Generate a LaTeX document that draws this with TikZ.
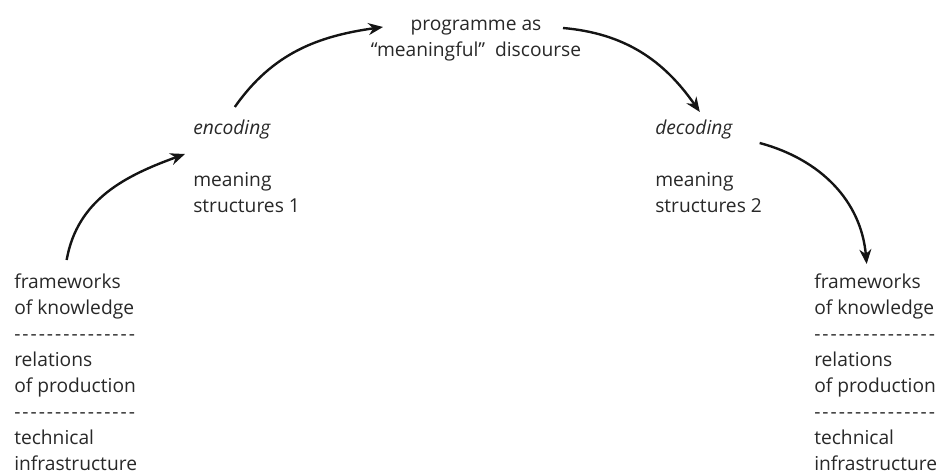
\documentclass[tikz,border=0pt]{standalone}
\usepackage{fontspec}
\setmainfont{Open Sans}
\usetikzlibrary{arrows.meta, positioning, calc}
\definecolor{inkgray}{RGB}{40, 40, 40}
\definecolor{arrowblack}{RGB}{20, 20, 20}
\newcommand{\dashrow}{\foreach \i in {1,...,15}{-\kern1.5pt}}
\tikzset{
    basictext/.style={
        inner sep=0pt,
        align=left,
        text=inkgray,
        font=\fontsize{14.4}{19.5}\selectfont
    },
    arrow/.style={
        -{Stealth[length=11pt, width=9pt]},
        line width=1.8pt,
        color=arrowblack
    },
}

\begin{document}
\begin{tikzpicture}[x=0.75pt, y=0.75pt]
    \useasboundingbox (0,0) rectangle (942,475);
    % the two stacks
    \node[basictext, anchor=north west] (lstack) at (14,201) {frameworks\\of knowledge\\\dashrow\\relations\\of production\\\dashrow\\technical\\infrastructure};
    \node[basictext, anchor=north west] (rstack) at (814,201) {frameworks\\of knowledge\\\dashrow\\relations\\of production\\\dashrow\\technical\\infrastructure};
    % encoding side
    \node[basictext, anchor=base west, font=\fontsize{14.4}{19.5}\selectfont\itshape] (enc) at (193,340) {encoding};
    \node[basictext, anchor=north west] (mean1) at (193,303) {meaning\\structures 1};
    % decoding side
    \node[basictext, anchor=base west, font=\fontsize{14.4}{19.5}\selectfont\itshape] (dec) at (655,340) {decoding};
    \node[basictext, anchor=north west] (mean2) at (655,303) {meaning\\structures 2};
    % programme
    \node[basictext, align=center, anchor=north] (prog) at (476,455) {programme as\\“meaningful”\ \ discourse};

    \draw[arrow] ($(lstack.north)+(-9,14)$) to[out=80, in=200] ($(enc.base west)+(-8,-19)$);
    \draw[arrow] ($(enc.base)+(3,28)$) to[out=55, in=188] ($(prog.north)+(-93,-7)$);
    \draw[arrow] ($(prog.north)+(87,-8)$) to[out=-5, in=125] ($(dec.base)+(6,23)$);
    \draw[arrow] ($(dec.base east)+(27,-8)$) to[out=-15, in=95] ($(rstack.north)+(-9,10)$);
\end{tikzpicture}
\end{document}
